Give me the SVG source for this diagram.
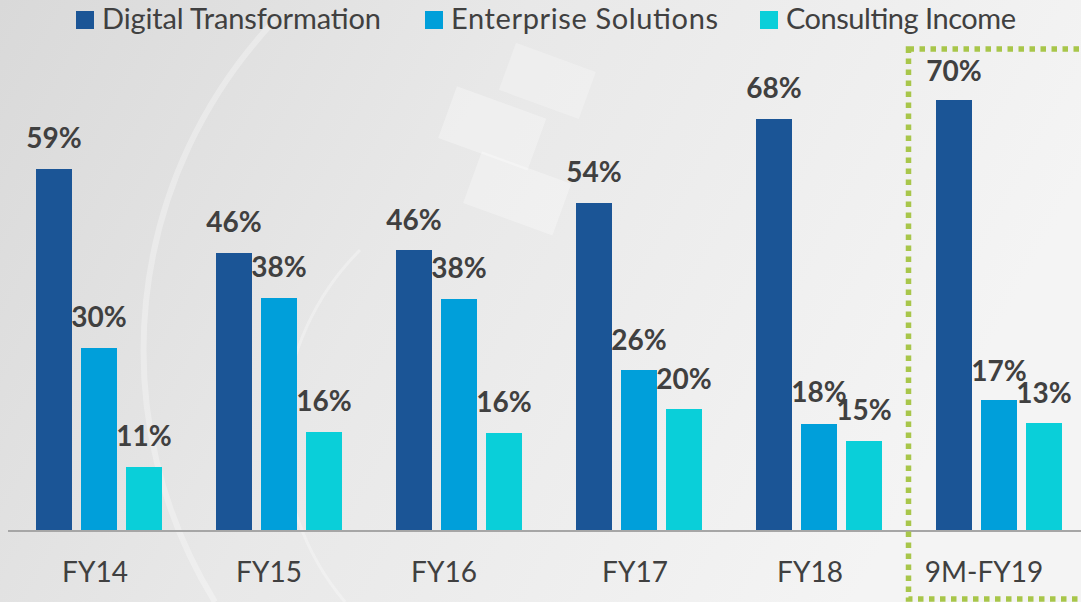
<svg xmlns="http://www.w3.org/2000/svg" width="1081" height="602" viewBox="0 0 1081 602">
<defs>
<linearGradient id="bg" x1="0" y1="0" x2="1" y2="0.3">
<stop offset="0" stop-color="#d9d9d9"/>
<stop offset="0.45" stop-color="#e8e8e8"/>
<stop offset="1" stop-color="#f4f4f4"/>
</linearGradient>
<style>
.dt{fill:#1b5596}
.es{fill:#009fda}
.ci{fill:#0acfd9}
.val{font-family:Lato,"Open Sans","Liberation Sans",sans-serif;font-weight:bold;font-size:28px;fill:#404040;text-anchor:middle}
.cat{font-family:Lato,"Open Sans","Liberation Sans",sans-serif;font-size:28px;fill:#404040;text-anchor:middle}
.leg{font-family:Lato,"Open Sans","Liberation Sans",sans-serif;font-size:29px;fill:#404040}
.deco{fill:none;stroke:#ffffff;stroke-opacity:0.3}
</style>
</defs>
<rect width="1081" height="602" fill="url(#bg)"/>
<g id="background-decoration">
<path class="deco" d="M275 20 A480 480 0 0 0 215 602" stroke-width="6"/>
<path class="deco" d="M360 250 A260 260 0 0 0 345 602" stroke-width="3"/>
<rect x="445" y="100" width="95" height="55" fill="#ffffff" fill-opacity="0.3" transform="rotate(20 490 127)"/>
<rect x="470" y="165" width="95" height="55" fill="#ffffff" fill-opacity="0.3" transform="rotate(20 515 192)"/>
<rect x="505" y="55" width="85" height="50" fill="#ffffff" fill-opacity="0.25" transform="rotate(20 545 80)"/>
</g>
<g id="legend">
<rect x="76" y="11" width="18" height="18" class="dt"/>
<text class="leg" x="102" y="29" textLength="279">Digital Transformation</text>
<rect x="425" y="11" width="18" height="18" class="es"/>
<text class="leg" x="451" y="29" textLength="267">Enterprise Solutions</text>
<rect x="760" y="11" width="18" height="18" class="ci"/>
<text class="leg" x="786" y="29" textLength="230">Consulting Income</text>
</g>
<g id="axis">
<line x1="8" y1="531" x2="1081" y2="531" stroke="#a6a6a6" stroke-width="2"/>
</g>
<g id="FY14">
<rect x="36" y="169" width="36" height="361" class="dt"/>
<rect x="81" y="348" width="36" height="182" class="es"/>
<rect x="126" y="467" width="36" height="63" class="ci"/>
<text class="val" x="54" y="148">59%</text>
<text class="val" x="99" y="327">30%</text>
<text class="val" x="144" y="446">11%</text>
<text class="cat" x="95" y="582">FY14</text>
</g>
<g id="FY15">
<rect x="216" y="253" width="36" height="277" class="dt"/>
<rect x="261" y="298" width="36" height="232" class="es"/>
<rect x="306" y="432" width="36" height="98" class="ci"/>
<text class="val" x="234" y="232">46%</text>
<text class="val" x="279" y="277">38%</text>
<text class="val" x="324" y="411">16%</text>
<text class="cat" x="269" y="582">FY15</text>
</g>
<g id="FY16">
<rect x="396" y="250" width="36" height="280" class="dt"/>
<rect x="441" y="299" width="36" height="231" class="es"/>
<rect x="486" y="433" width="36" height="97" class="ci"/>
<text class="val" x="414" y="230">46%</text>
<text class="val" x="459" y="278">38%</text>
<text class="val" x="504" y="412">16%</text>
<text class="cat" x="444" y="582">FY16</text>
</g>
<g id="FY17">
<rect x="576" y="203" width="36" height="327" class="dt"/>
<rect x="621" y="370" width="36" height="160" class="es"/>
<rect x="666" y="409" width="36" height="121" class="ci"/>
<text class="val" x="594" y="182">54%</text>
<text class="val" x="639" y="350">26%</text>
<text class="val" x="684" y="389">20%</text>
<text class="cat" x="635" y="582">FY17</text>
</g>
<g id="FY18">
<rect x="756" y="119" width="36" height="411" class="dt"/>
<rect x="801" y="424" width="36" height="106" class="es"/>
<rect x="846" y="441" width="36" height="89" class="ci"/>
<text class="val" x="774" y="98">68%</text>
<text class="val" x="819" y="402">18%</text>
<text class="val" x="864" y="420">15%</text>
<text class="cat" x="810" y="582">FY18</text>
</g>
<g id="FY19">
<rect x="936" y="100" width="36" height="430" class="dt"/>
<rect x="981" y="400" width="36" height="130" class="es"/>
<rect x="1026" y="423" width="36" height="107" class="ci"/>
<text class="val" x="954" y="81">70%</text>
<text class="val" x="999" y="381">17%</text>
<text class="val" x="1044" y="403">13%</text>
<text class="cat" x="984" y="582">9M-FY19</text>
</g>
<g id="highlight">
<rect x="908.5" y="49" width="200" height="550" fill="none" stroke="#a8c64a" stroke-width="5.5" stroke-dasharray="5.5 5.5"/>
</g>
</svg>
